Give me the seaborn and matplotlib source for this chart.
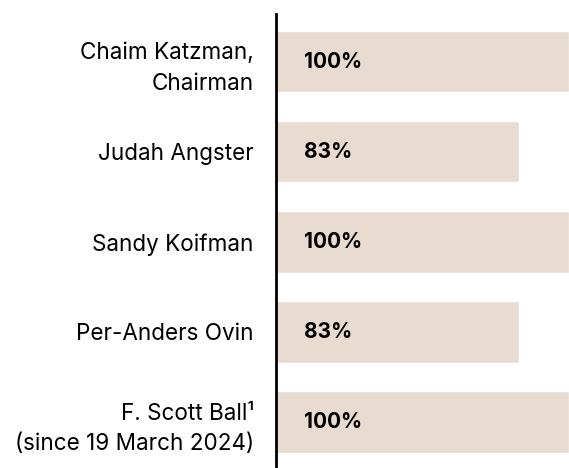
import pandas as pd
import matplotlib
matplotlib.use("Agg")
import matplotlib.pyplot as plt
import seaborn as sns

# Board attendance data
directors = [
    "Chaim Katzman,\nChairman",
    "Judah Angster",
    "Sandy Koifman",
    "Per-Anders Ovin",
    "F. Scott Ball\u00b9\n(since 19 March 2024)",
]
attendance = [100, 83, 100, 83, 100]
value_labels = ["100%", "83%", "100%", "83%", "100%"]

df = pd.DataFrame({"director": directors, "attendance": attendance})

sns.set_style("white")
plt.rcParams["font.family"] = ["Inter", "DejaVu Sans"]

fig = plt.figure(figsize=(5.69, 4.68), dpi=100)
ax = fig.add_axes([0.485, 0.0, 0.515, 0.970])

sns.barplot(data=df, x="attendance", y="director", orient="h",
            color="#E8DBD0", saturation=1, width=0.68, ax=ax)

# Percentage labels inside bars
for i, txt in enumerate(value_labels):
    ax.text(9.5, i, txt, va="center", ha="left", fontsize=15,
            fontweight="bold", color="#000000")

ax.set_xlim(0, 100)
ax.set_ylim(4.51, -0.53)
ax.set_xlabel("")
ax.set_ylabel("")
ax.set_xticks([])
ax.tick_params(axis="y", length=0, pad=16, labelsize=16.2, labelcolor="#000000")
for lbl in ax.get_yticklabels():
    lbl.set_linespacing(1.5)

for side in ["top", "right", "bottom"]:
    ax.spines[side].set_visible(False)
ax.spines["left"].set_color("#000000")
ax.spines["left"].set_linewidth(2)

fig.savefig("out.png", dpi=100)
